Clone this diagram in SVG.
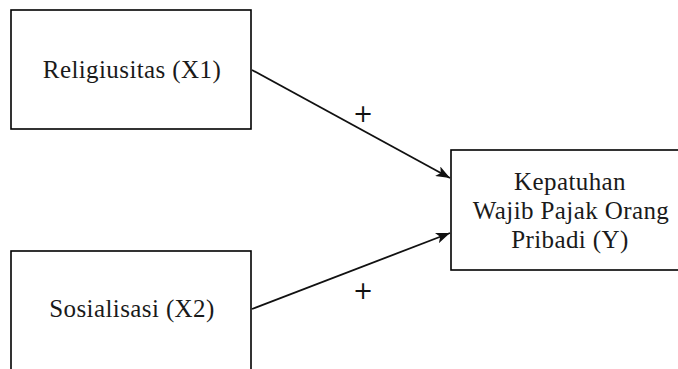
<svg xmlns="http://www.w3.org/2000/svg" width="678" height="369" viewBox="0 0 678 369">
  <style>
    .box { fill: #ffffff; stroke: #000000; stroke-width: 1.6; }
    .label { font-family: "Liberation Serif", "Times New Roman", serif; font-size: 25px; letter-spacing: 0.4px; fill: #1a1a1a; text-anchor: middle; }
    .sign { font-family: "DejaVu Sans", sans-serif; font-size: 24px; fill: #111111; text-anchor: middle; }
    .edge { fill: none; stroke: #111111; stroke-width: 1.8; }
  </style>
  <defs>
    <marker id="arrow" viewBox="0 0 14 11" refX="14" refY="5.5" markerWidth="14" markerHeight="11" markerUnits="userSpaceOnUse" orient="auto">
      <path d="M0,0 L14,5.5 L0,11 L3.5,5.5 Z" fill="#111111"/>
    </marker>
  </defs>
  <rect width="678" height="369" fill="#ffffff"/>

  <g id="node-x1">
    <rect class="box" x="11" y="10" width="240" height="119"/>
    <text class="label" x="132" y="78">Religiusitas (X1)</text>
  </g>

  <g id="node-x2">
    <rect class="box" x="11" y="251" width="240" height="122"/>
    <text class="label" x="132" y="317">Sosialisasi (X2)</text>
  </g>

  <g id="node-y">
    <rect class="box" x="451" y="150" width="240" height="120"/>
    <text class="label" x="570" y="190">Kepatuhan</text>
    <text class="label" x="571" y="219">Wajib Pajak Orang</text>
    <text class="label" x="570" y="248">Pribadi (Y)</text>
  </g>

  <g id="connectors">
    <line class="edge" x1="252" y1="70" x2="450" y2="178" marker-end="url(#arrow)"/>
    <line class="edge" x1="252" y1="309" x2="450" y2="233" marker-end="url(#arrow)"/>
    <text class="sign" x="363" y="122">+</text>
    <text class="sign" x="363" y="299">+</text>
  </g>
</svg>
